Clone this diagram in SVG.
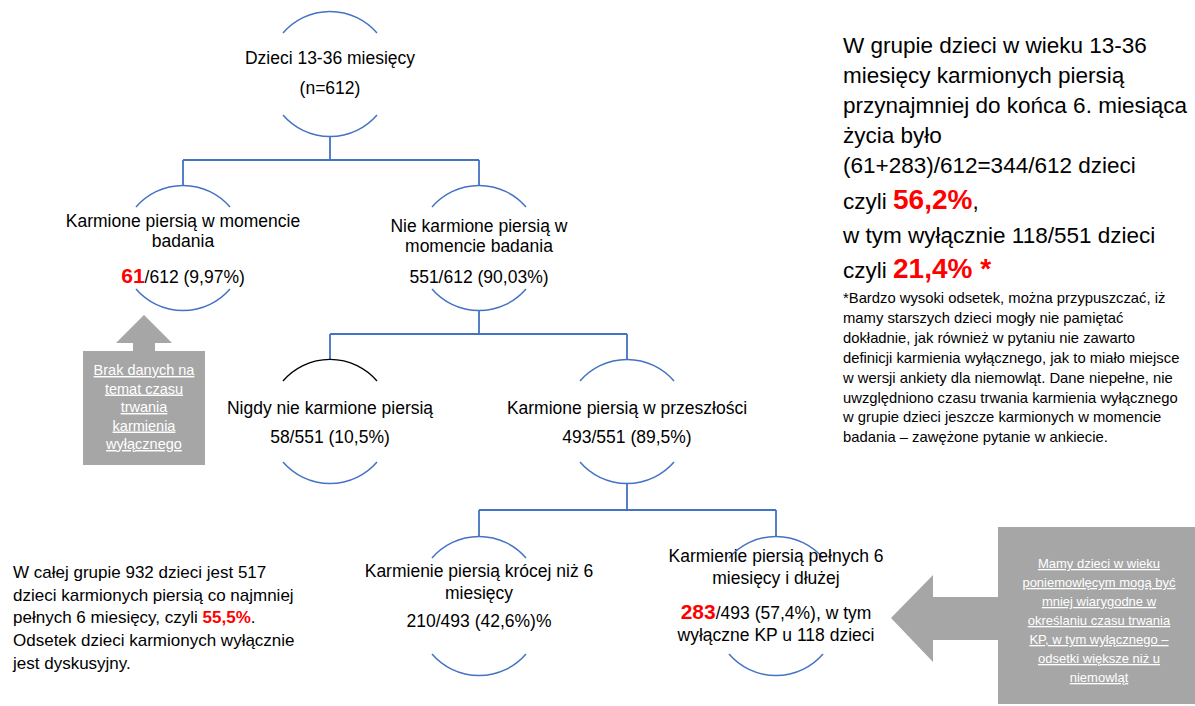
<svg xmlns="http://www.w3.org/2000/svg" width="1195" height="706" viewBox="0 0 1195 706">
<style>
.arc{fill:none;stroke:#4472c4;stroke-width:1.5}
.arcb{fill:none;stroke:#000;stroke-width:1.3}
.con{fill:none;stroke:#4472c4;stroke-width:1.8}
.t{font-family:"Liberation Sans",Arial,sans-serif;font-size:17.5px;fill:#000;text-anchor:middle}
.big{font-weight:bold;fill:#ff0000;font-size:21px}
.side{font-family:"Liberation Sans",Arial,sans-serif;fill:#000}
.red{font-weight:bold;fill:#ff0000}
.box{fill:#a6a6a6}
.bt{font-family:"Liberation Sans",Arial,sans-serif;fill:#fff;text-anchor:middle;text-decoration:underline}
</style>
<rect width="1195" height="706" fill="#fff"/>
<g id="connectors">
<path class="con" d="M330 136V160M183 160H479M183 160V186M479 160V186"/>
<path class="con" d="M479 310V334M330 334H627M330 334V360M627 334V360"/>
<path class="con" d="M627 483V510M479 510H776M479 510V537M776 510V537"/>
</g>
<g id="node-root">
<path class="arc" d="M283 33A62 62 0 0 1 377 33"/>
<path class="arc" d="M283 115A62 62 0 0 0 377 115"/>
<text class="t" x="330" y="64">Dzieci 13-36 miesięcy</text>
<text class="t" x="330" y="94">(n=612)</text>
</g>
<g id="node-karmione-teraz">
<path class="arc" d="M136 207A62 62 0 0 1 230 207"/>
<path class="arc" d="M136 289A62 62 0 0 0 230 289"/>
<text class="t" x="183" y="227">Karmione piersią w momencie</text>
<text class="t" x="183" y="247">badania</text>
<text class="t" x="183" y="283"><tspan class="big">61</tspan>/612 (9,97%)</text>
</g>
<g id="node-nie-karmione">
<path class="arc" d="M432 207A62 62 0 0 1 526 207"/>
<path class="arc" d="M432 289A62 62 0 0 0 526 289"/>
<text class="t" x="479" y="232">Nie karmione piersią w</text>
<text class="t" x="479" y="252">momencie badania</text>
<text class="t" x="479" y="283">551/612 (90,03%)</text>
</g>
<g id="node-nigdy">
<path class="arcb" d="M283 381A62 62 0 0 1 377 381"/>
<path class="arc" d="M283 462A62 62 0 0 0 377 462"/>
<text class="t" x="330" y="414">Nigdy nie karmione piersią</text>
<text class="t" x="330" y="443">58/551 (10,5%)</text>
</g>
<g id="node-przeszlosc">
<path class="arc" d="M580 381A62 62 0 0 1 674 381"/>
<path class="arc" d="M580 462A62 62 0 0 0 674 462"/>
<text class="t" x="627" y="414">Karmione piersią w przeszłości</text>
<text class="t" x="627" y="443">493/551 (89,5%)</text>
</g>
<g id="node-krocej">
<path class="arc" d="M432 558A62 62 0 0 1 526 558"/>
<path class="arc" d="M432 654A62 62 0 0 0 526 654"/>
<text class="t" x="479" y="577">Karmienie piersią krócej niż 6</text>
<text class="t" x="479" y="599">miesięcy</text>
<text class="t" x="479" y="627">210/493 (42,6%)%</text>
</g>
<g id="node-6-miesiecy">
<path class="arc" d="M729 558A62 62 0 0 1 823 558"/>
<path class="arc" d="M729 654A62 62 0 0 0 823 654"/>
<text class="t" x="776" y="562">Karmienie piersią pełnych 6</text>
<text class="t" x="776" y="584">miesięcy i dłużej</text>
<text class="t" x="776" y="619"><tspan class="big">283</tspan>/493 (57,4%), w tym</text>
<text class="t" x="776" y="641">wyłączne KP u 118 dzieci</text>
</g>
<g id="callout-left">
<polygon class="box" points="144,315 172,343 155,343 155,351 205,351 205,465 83,465 83,351 133,351 133,343 116,343"/>
<text class="bt" font-size="14.5" x="144" y="375">Brak danych na</text>
<text class="bt" font-size="14.5" x="144" y="393.5">temat czasu</text>
<text class="bt" font-size="14.5" x="144" y="412">trwania</text>
<text class="bt" font-size="14.5" x="144" y="430.5">karmienia</text>
<text class="bt" font-size="14.5" x="144" y="449">wyłącznego</text>
</g>
<g id="callout-right">
<polygon class="box" points="891,618 933,575 933,597 998,597 998,527 1195,527 1195,704 998,704 998,640 933,640 933,662"/>
<text class="bt" font-size="13" x="1099" y="568">Mamy dzieci w wieku</text>
<text class="bt" font-size="13" x="1099" y="587">poniemowlęcym mogą być</text>
<text class="bt" font-size="13" x="1099" y="606">mniej wiarygodne w</text>
<text class="bt" font-size="13" x="1099" y="625">określaniu czasu trwania</text>
<text class="bt" font-size="13" x="1099" y="644">KP, w tym wyłącznego –</text>
<text class="bt" font-size="13" x="1099" y="663">odsetki większe niż u</text>
<text class="bt" font-size="13" x="1099" y="682">niemowląt</text>
</g>
<g id="summary-right" class="side" font-size="22.5">
<text x="843" y="53">W grupie dzieci w wieku 13-36</text>
<text x="843" y="83">miesięcy karmionych piersią</text>
<text x="843" y="113">przynajmniej do końca 6. miesiąca</text>
<text x="843" y="143">życia było</text>
<text x="843" y="173">(61+283)/612=344/612 dzieci</text>
<text x="843" y="209">czyli <tspan class="red" font-size="28">56,2%</tspan>,</text>
<text x="843" y="243">w tym wyłącznie 118/551 dzieci</text>
<text x="843" y="278">czyli <tspan class="red" font-size="28">21,4% *</tspan></text>
</g>
<g id="footnote" class="side" font-size="14.8">
<text x="843" y="303">*Bardzo wysoki odsetek, można przypuszczać, iż</text>
<text x="843" y="323">mamy starszych dzieci mogły nie pamiętać</text>
<text x="843" y="343">dokładnie, jak również w pytaniu nie zawarto</text>
<text x="843" y="363">definicji karmienia wyłącznego, jak to miało miejsce</text>
<text x="843" y="383">w wersji ankiety dla niemowląt. Dane niepełne, nie</text>
<text x="843" y="403">uwzględniono czasu trwania karmienia wyłącznego</text>
<text x="843" y="422">w grupie dzieci jeszcze karmionych w momencie</text>
<text x="843" y="442">badania – zawężone pytanie w ankiecie.</text>
</g>
<g id="summary-left" class="side" font-size="17">
<text x="13" y="578">W całej grupie 932 dzieci jest 517</text>
<text x="13" y="601">dzieci karmionych piersią co najmniej</text>
<text x="13" y="623">pełnych 6 miesięcy, czyli <tspan class="red">55,5%</tspan>.</text>
<text x="13" y="646">Odsetek dzieci karmionych wyłącznie</text>
<text x="13" y="669">jest dyskusyjny.</text>
</g>
</svg>
